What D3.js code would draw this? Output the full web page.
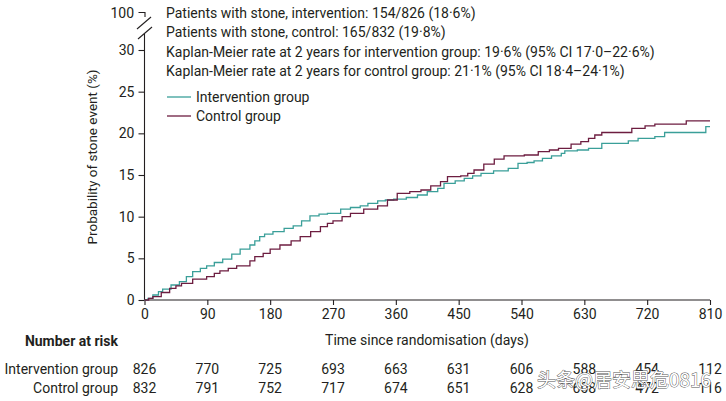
<!DOCTYPE html>
<html>
<head>
<meta charset="utf-8">
<script src="https://cdn.jsdelivr.net/npm/d3@7"></script>
<style>
  body { margin: 0; background: #fff; }
  svg text { font-family: Roboto, "Noto Sans", sans-serif; fill: #231f20; }
</style>
</head>
<body>
<div id="chart"></div>
<script>
// step curves: [day, cumulative %]
var interventionSteps = [
  [0,0],[5,0.2],[12,0.6],[20,1.0],[26,1.3],[38,1.8],[50,2.2],[60,2.8],[69,3.4],[80,3.8],
  [89,4.1],[100,4.5],[112,4.9],[125,5.5],[137,6.1],[151,6.6],[158,7.1],[165,7.6],[172,7.9],
  [184,8.2],[200,8.6],[213,8.9],[225,9.5],[237,10.1],[250,10.3],[262,10.4],[281,10.9],
  [295,11.1],[309,11.3],[320,11.6],[334,11.9],[345,12.0],[357,12.1],[375,12.3],[391,12.6],
  [405,13.0],[420,13.4],[429,14.0],[445,14.3],[458,14.6],[470,14.9],[482,15.2],[500,15.5],
  [521,15.8],[535,16.4],[548,16.5],[558,16.7],[570,17.0],[583,17.3],[597,17.6],[602,17.9],
  [620,18.0],[636,18.2],[655,18.8],[693,19.1],[707,19.4],[731,19.6],[745,20.1],[804,20.8],[810,20.8]
];
var controlSteps = [
  [0,0],[6,0.2],[12,0.4],[24,0.9],[36,1.4],[45,1.7],[53,2.0],[69,2.5],[89,2.8],[100,3.2],
  [108,3.5],[120,3.8],[132,4.1],[151,4.7],[158,5.2],[170,5.6],[180,6.1],[194,6.6],[210,7.1],
  [223,7.6],[238,8.2],[252,8.8],[262,9.2],[270,9.5],[283,10.0],[295,10.4],[314,10.9],
  [334,11.3],[348,12.0],[362,12.8],[380,13.0],[396,13.2],[410,13.7],[424,14.2],[434,14.8],
  [453,14.9],[463,15.2],[472,15.6],[486,16.3],[501,16.9],[515,17.3],[544,17.4],[564,17.8],
  [580,18.0],[593,18.2],[611,18.7],[625,19.0],[636,19.4],[645,19.8],[655,20.1],[698,20.6],
  [717,20.9],[731,21.1],[776,21.5],[810,21.5]
];

var xTicks = [0, 90, 180, 270, 360, 450, 540, 630, 720, 810];
var yTicks = [0, 5, 10, 15, 20, 25, 30];
var yBreakLabel = "100";

var riskGroups = ["Intervention group", "Control group"];
var riskIntervention = [826, 770, 725, 693, 663, 631, 606, 588, 454, 112];
var riskControl = [832, 791, 752, 717, 674, 651, 628, 608, 472, 116];

var notes = [
  "Patients with stone, intervention: 154/826 (18·6%)",
  "Patients with stone, control: 165/832 (19·8%)",
  "Kaplan-Meier rate at 2 years for intervention group: 19·6% (95% CI 17·0–22·6%)",
  "Kaplan-Meier rate at 2 years for control group: 21·1% (95% CI 18·4–24·1%)"
];
var legendNames = ["Intervention group", "Control group"];
var colors = ["#3a9f99", "#6d1d40"];

var W = 726, H = 401;
var svg = d3.select("#chart").append("svg").attr("width", W).attr("height", H);

var x = d3.scaleLinear().domain([0, 810]).range([144.5, 710]);
var y = d3.scaleLinear().domain([0, 30]).range([300, 50]);

// x axis
var xAxis = svg.append("g").attr("transform", "translate(0,300)")
  .call(d3.axisBottom(x).tickValues(xTicks).tickSize(5).tickPadding(4));
// y axis
var yAxis = svg.append("g").attr("transform", "translate(144.5,0)")
  .call(d3.axisLeft(y).tickValues(yTicks).tickSize(6).tickPadding(4));

[xAxis, yAxis].forEach(function(a) {
  a.select(".domain").remove();
  a.selectAll("line").attr("stroke", "#231f20").attr("stroke-width", 1.1);
  a.selectAll("text").style("font-size", "14px").attr("fill", "#231f20");
});

var ink = "#231f20";
svg.append("line").attr("x1", 144.5).attr("x2", 710).attr("y1", 300).attr("y2", 300)
  .attr("stroke", ink).attr("stroke-width", 1.1);
svg.append("line").attr("x1", 144.5).attr("x2", 144.5).attr("y1", 300).attr("y2", 34)
  .attr("stroke", ink).attr("stroke-width", 1.1);

// axis break with 100 tick
svg.append("path").attr("d", "M138.5,12.5 H145 V17").attr("fill", "none").attr("stroke", ink).attr("stroke-width", 1.1);
svg.append("line").attr("x1", 137).attr("y1", 29).attr("x2", 151).attr("y2", 17).attr("stroke", ink).attr("stroke-width", 1.1);
svg.append("line").attr("x1", 138).attr("y1", 39).attr("x2", 152).attr("y2", 27).attr("stroke", ink).attr("stroke-width", 1.1);
svg.append("text").attr("x", 134).attr("y", 13).attr("dy", "0.35em").attr("text-anchor", "end")
  .style("font-size", "14px").text(yBreakLabel);

// axis titles
svg.append("text").attr("transform", "translate(97,157) rotate(-90)").attr("text-anchor", "middle")
  .style("font-size", "13.5px").text("Probability of stone event (%)");
svg.append("text").attr("x", 427).attr("y", 340).attr("dy", "0.35em").attr("text-anchor", "middle")
  .style("font-size", "14px").text("Time since randomisation (days)");

// curves
var line = d3.line().curve(d3.curveStepAfter)
  .x(function(d) { return x(d[0]); })
  .y(function(d) { return y(d[1]); });
[interventionSteps, controlSteps].forEach(function(s, i) {
  svg.append("path").datum(s).attr("d", line).attr("fill", "none")
    .attr("stroke", colors[i]).attr("stroke-width", 1.3);
});

// notes
notes.forEach(function(t, i) {
  svg.append("text").attr("x", 166).attr("y", 13 + i * 19.3).attr("dy", "0.35em")
    .style("font-size", "14px").text(t);
});

// legend
legendNames.forEach(function(t, i) {
  var ly = 97 + i * 19;
  svg.append("line").attr("x1", 167).attr("x2", 191).attr("y1", ly).attr("y2", ly)
    .attr("stroke", colors[i]).attr("stroke-width", 1.3);
  svg.append("text").attr("x", 196).attr("y", ly).attr("dy", "0.35em")
    .style("font-size", "14px").text(t);
});

// number at risk
svg.append("text").attr("x", 118).attr("y", 341).attr("dy", "0.35em").attr("text-anchor", "end")
  .style("font-size", "14px").style("font-weight", "bold").text("Number at risk");
[riskIntervention, riskControl].forEach(function(vals, i) {
  var ry = 369 + i * 19;
  svg.append("text").attr("x", 118).attr("y", ry).attr("dy", "0.35em").attr("text-anchor", "end")
    .style("font-size", "14px").text(riskGroups[i]);
  svg.selectAll(null).data(vals).enter().append("text")
    .attr("x", function(d, j) { return x(xTicks[j]); })
    .attr("y", ry).attr("dy", "0.35em").attr("text-anchor", "middle")
    .style("font-size", "14px").text(function(d) { return d; });
});

// watermark
svg.append("text").attr("x", 537).attr("y", 380).attr("dy", "0.35em")
  .style("font-family", "'Noto Sans CJK SC', sans-serif").style("font-size", "19px")
  .attr("stroke", "#555").attr("stroke-width", 0.9)
  .attr("paint-order", "stroke").style("fill", "#fff")
  .text("头条@居安思危0816");
</script>
</body>
</html>
